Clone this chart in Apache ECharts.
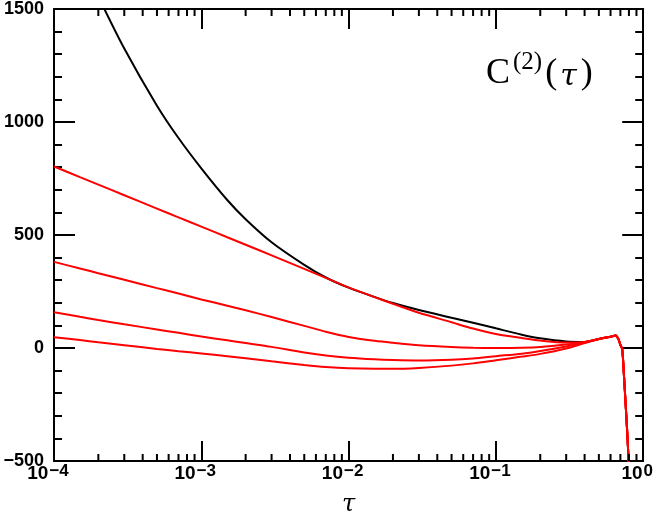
<!DOCTYPE html>
<html>
<head>
<meta charset="utf-8">
<script src="https://cdn.jsdelivr.net/npm/echarts@6/dist/echarts.min.js"></script>
<style>
html,body{margin:0;padding:0;background:#fff;}
#chart{width:656px;height:522px;}
</style>
</head>
<body>
<div id="chart"></div>
<script>
// tau values (shared x grid)
const tau = [1e-4, 1.5e-4, 2e-4, 3e-4, 5e-4, 7e-4, 1e-3, 1.5e-3, 2e-3, 3e-3, 5e-3, 7e-3,
  1e-2, 1.5e-2, 2e-2, 3e-2, 5e-2, 7e-2, 0.1, 0.15, 0.2, 0.3, 0.4, 0.5, 0.6, 0.65, 0.68, 0.7, 0.72, 0.74, 0.76, 0.78, 0.8];
// black curve
const black = [2050, 1732, 1555, 1325, 1072, 929, 795, 655, 570, 468, 368, 312,
  267, 226, 199, 168, 134, 112, 87, 59, 43, 29, 27, 40, 50, 55, 38, 14, -5, -120, -250, -380, -530];
// red curves
const red1 = [803, 756, 723, 676, 617, 578, 537, 490, 457, 410, 350, 310,
  268, 225, 196, 156, 114, 86, 62, 44, 33, 24, 27, 40, 50, 55, 38, 14, -5, -120, -250, -380, -530];
const red2 = [381, 352, 331, 302, 265, 241, 215, 187, 167, 137, 98, 72,
  49, 32, 23, 12, 4, 1, 0, 1, 4, 15, 26, 40, 50, 55, 38, 14, -5, -120, -250, -380, -530];
const red3 = [158, 138, 124, 105, 82, 67, 51, 34, 22, 5, -20, -33,
  -43, -50, -53, -55, -52, -46, -36, -25, -13, 7, 24, 40, 50, 55, 38, 14, -5, -120, -250, -380, -530];
const red4 = [48, 35, 25, 12, -4, -14, -24, -36, -45, -59, -75, -84,
  -90, -92, -92, -88, -78, -68, -54, -38, -26, -2, 22, 40, 50, 55, 38, 14, -5, -120, -250, -380, -530];
// axis settings
const xMin = 1e-4, xMax = 1;
const yMin = -500, yMax = 1500, yInterval = 500;
const xTickExponents = ['−4', '−3', '−2', '−1', '0'];
const xMinorTicks = [];
[1e-4, 1e-3, 1e-2, 1e-1].forEach(d => { [2,3,4,5,6,7,8,9].forEach(k => xMinorTicks.push(+(k * d).toPrecision(3))); });

const pairs = arr => tau.map((t, i) => [t, arr[i]]);

const chart = echarts.init(document.getElementById('chart'), null, {renderer: 'canvas'});
const labelFont = {fontFamily: 'Liberation Sans', fontWeight: 'bold', color: '#000'};
const axisLine = {show: true, onZero: false, lineStyle: {color: '#000', width: 2}};

function lineSeries(arr, color, z) {
  return {type: 'line', data: pairs(arr), showSymbol: false, symbol: 'none', smooth: 0.3,
    lineStyle: {color: color, width: 2}, itemStyle: {color: color}, z: z, clip: true, xAxisIndex: 0, yAxisIndex: 0};
}

chart.setOption({
  animation: false,
  grid: {left: 54, top: 8, width: 593, height: 455, containLabel: false},
  xAxis: [
    {type: 'log', logBase: 10, min: xMin, max: xMax, position: 'bottom',
      axisLine: axisLine,
      axisTick: {show: true, inside: true, length: 20, lineStyle: {color: '#000', width: 2}},
      splitLine: {show: false},
      axisLabel: Object.assign({fontSize: 18, margin: 2, padding: [0, 12, 0, 0],
        formatter: (v) => { const e = Math.round(Math.log10(v)); return '{b|10}{e|' + xTickExponents[e + 4] + '}'; },
        rich: {
          b: {fontFamily: 'Liberation Sans', fontWeight: 'bold', fontSize: 19, lineHeight: 20, verticalAlign: 'bottom', color: '#000'},
          e: {fontFamily: 'Liberation Sans', fontWeight: 'bold', fontSize: 17, lineHeight: 16, padding: [0, 0, 6, 1], verticalAlign: 'top', color: '#000'}
        }}, labelFont),
      name: 'τ', nameLocation: 'middle', nameGap: 32,
      nameTextStyle: {fontFamily: 'DejaVu Serif', fontStyle: 'italic', fontSize: 24, color: '#000'}
    },
    {type: 'log', logBase: 10, min: xMin, max: xMax, position: 'top',
      axisLine: axisLine,
      axisTick: {show: true, inside: true, length: 20, lineStyle: {color: '#000', width: 2}},
      splitLine: {show: false}, axisLabel: {show: false}}
  ],
  yAxis: [
    {type: 'value', min: yMin, max: yMax, interval: yInterval, position: 'left',
      axisLine: axisLine,
      axisTick: {show: true, inside: true, length: 21, lineStyle: {color: '#000', width: 2}},
      minorTick: {show: true, splitNumber: 5, length: 8, lineStyle: {color: '#000', width: 2}},
      splitLine: {show: false},
      axisLabel: Object.assign({fontSize: 18, margin: 10, formatter: v => String(v).replace('-', '−')}, labelFont)
    },
    {type: 'value', min: yMin, max: yMax, interval: yInterval, position: 'right',
      axisLine: axisLine,
      axisTick: {show: true, inside: true, length: 21, lineStyle: {color: '#000', width: 2}},
      minorTick: {show: true, splitNumber: 5, length: 8, lineStyle: {color: '#000', width: 2}},
      splitLine: {show: false}, axisLabel: {show: false}}
  ],
  graphic: [{
    type: 'text', left: 486, top: 50, z: 100,
    style: {
      text: '{c|C}{s|(2)}{p|(}{t|τ}{q|)}',
      rich: {
        c: {fontFamily: 'Liberation Serif', fontSize: 36, lineHeight: 42, verticalAlign: 'bottom', fill: '#000', padding: [0, 1, 0, 0]},
        s: {fontFamily: 'Liberation Serif', fontSize: 25, lineHeight: 24, verticalAlign: 'top', fill: '#000', padding: [0, 3, 0, 2]},
        p: {fontFamily: 'Liberation Serif', fontSize: 36, lineHeight: 42, verticalAlign: 'bottom', fill: '#000', padding: [0, 3, 0, 0]},
        t: {fontFamily: 'DejaVu Serif', fontStyle: 'italic', fontSize: 30, lineHeight: 40, verticalAlign: 'bottom', fill: '#000', padding: [0, 4, 0, 0]},
        q: {fontFamily: 'Liberation Serif', fontSize: 36, lineHeight: 42, verticalAlign: 'bottom', fill: '#000'}
      }
    }
  }],
  series: [
    {type: 'custom', xAxisIndex: 0, yAxisIndex: 0, data: xMinorTicks.map(t => [t]), silent: true, z: 5,
      renderItem: function (params, api) {
        const t = api.value(0);
        const b = api.coord([t, yMin]);
        const tp = api.coord([t, yMax]);
        const st = {stroke: '#000', lineWidth: 2};
        return {type: 'group', children: [
          {type: 'line', shape: {x1: b[0], y1: b[1], x2: b[0], y2: b[1] - 7}, style: st},
          {type: 'line', shape: {x1: tp[0], y1: tp[1], x2: tp[0], y2: tp[1] + 7}, style: st}
        ]};
      }
    },
    lineSeries(black, '#000000', 2),
    lineSeries(red1, '#ff0000', 3),
    lineSeries(red2, '#ff0000', 3),
    lineSeries(red3, '#ff0000', 3),
    lineSeries(red4, '#ff0000', 3)
  ]
});
</script>
</body>
</html>
